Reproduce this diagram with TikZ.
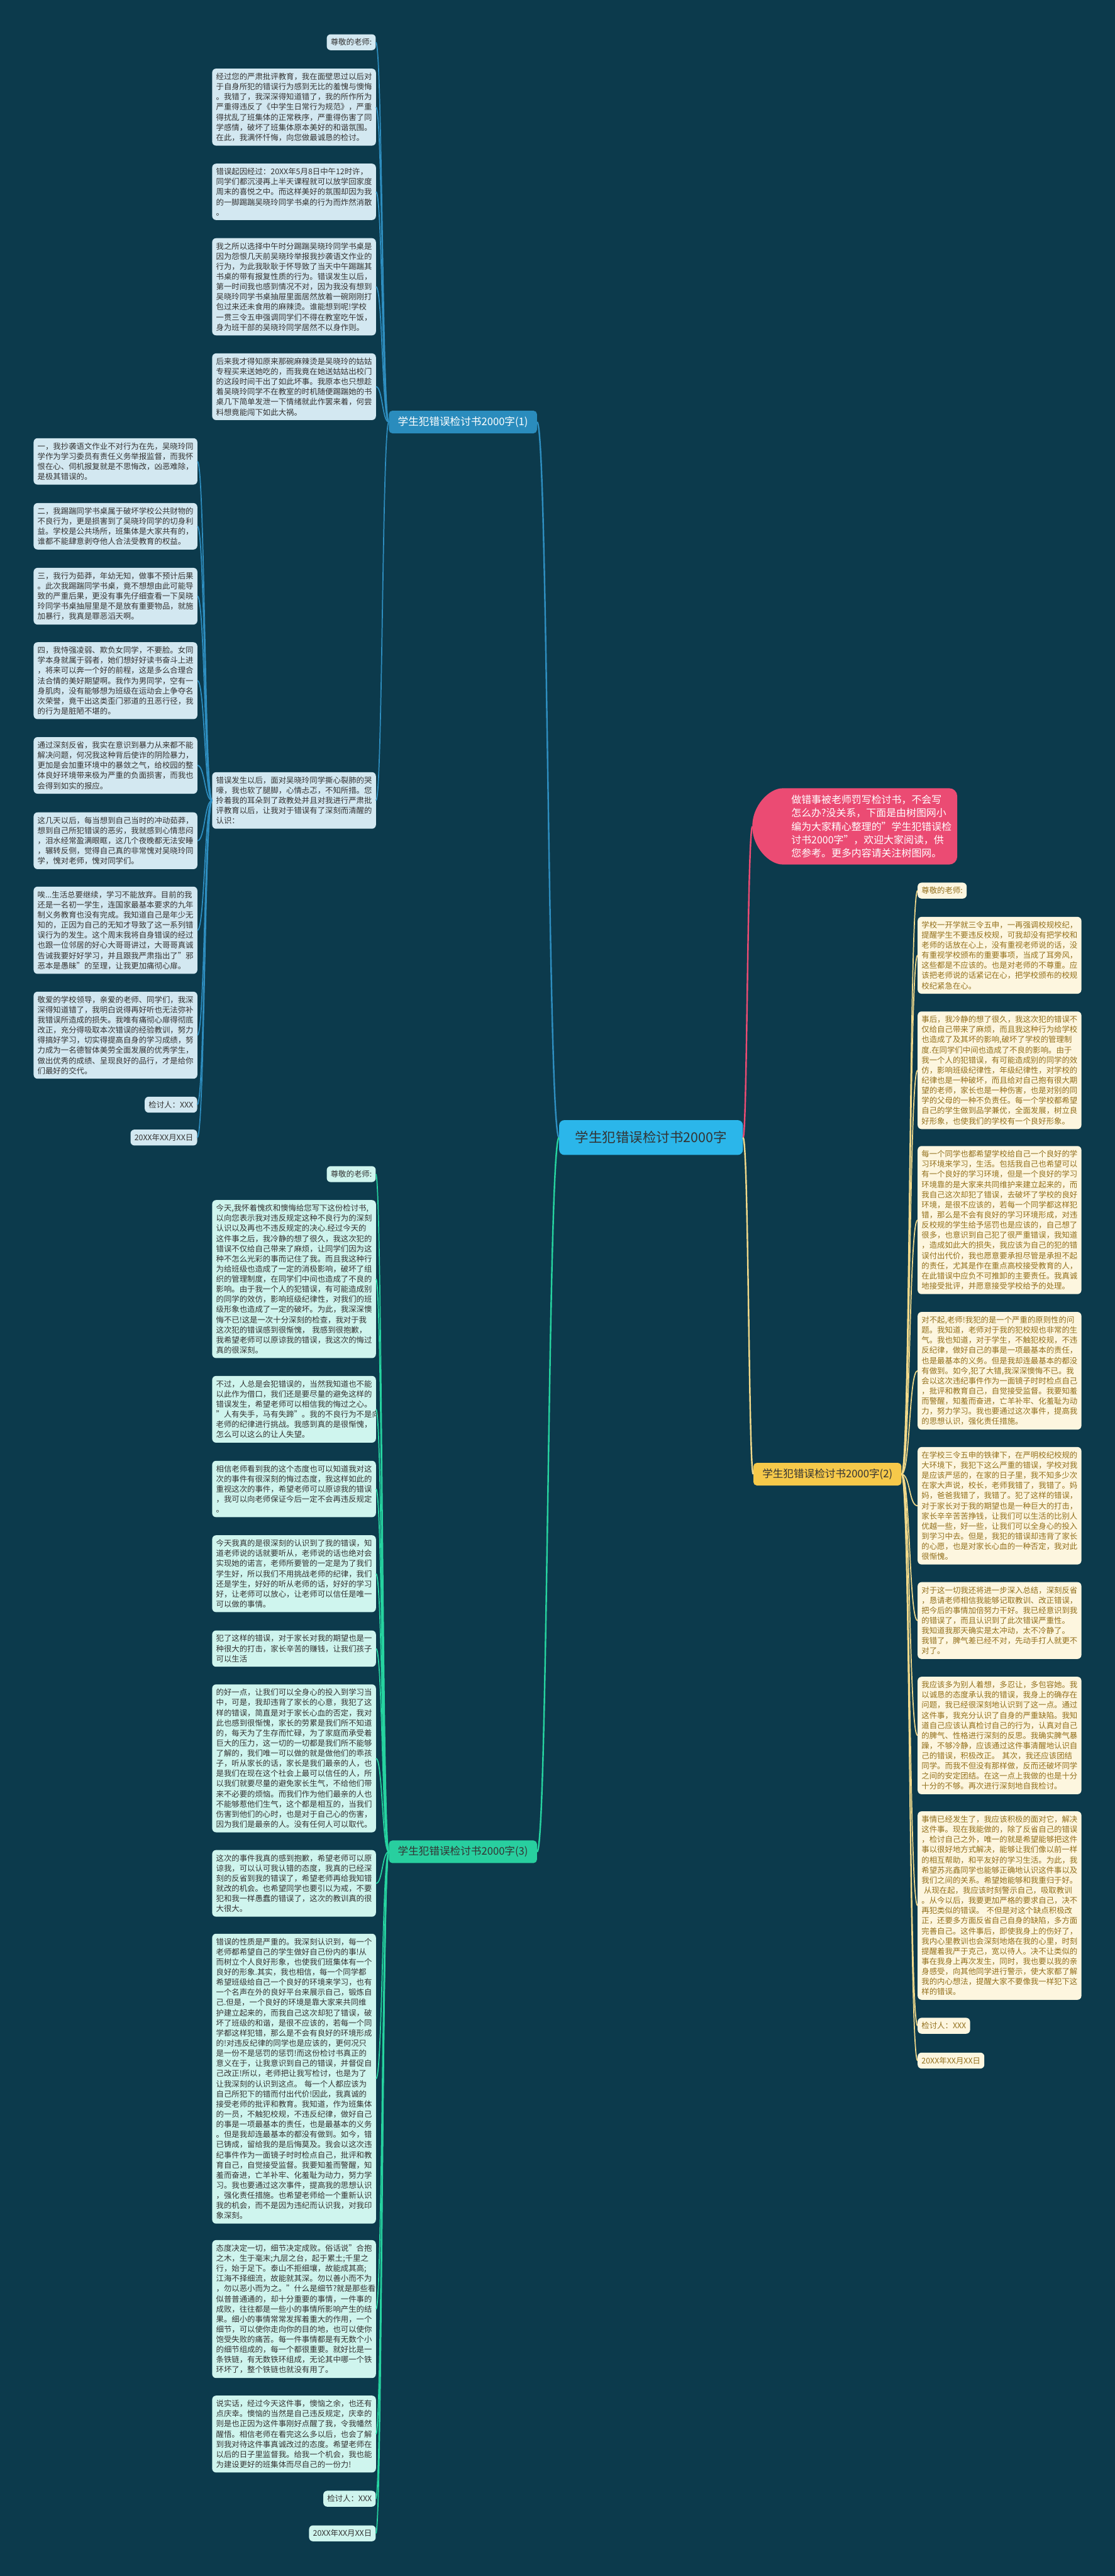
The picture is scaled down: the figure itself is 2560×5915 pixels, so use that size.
\documentclass[tikz,border=0pt]{standalone}
\usepackage{fontspec}
\setmainfont{Noto Sans CJK SC}
\usetikzlibrary{calc}
\definecolor{bgc}{HTML}{0C3A4C}
\definecolor{bline}{HTML}{2E8EC0}
\definecolor{bfill}{HTML}{D3E8F1}
\definecolor{bnode}{HTML}{2A8CBD}
\definecolor{gline}{HTML}{26D3A0}
\definecolor{gfill}{HTML}{CFF5EE}
\definecolor{gnode}{HTML}{28CF9F}
\definecolor{yline}{HTML}{F1D98A}
\definecolor{yfill}{HTML}{FDF6DF}
\definecolor{ytext}{HTML}{93701C}
\definecolor{ynode}{HTML}{F6C94A}
\definecolor{pinkc}{HTML}{EB4B73}
\definecolor{cenc}{HTML}{2BB6EA}
\definecolor{dtext}{HTML}{333333}
\newcommand\myboxfont{\fontsize{17.9pt}{23.3pt}\selectfont}
\newcommand\mybrfont{\fontsize{24pt}{28pt}\selectfont}
\newcommand\mycenfont{\fontsize{31pt}{36pt}\selectfont}
\newcommand\mypkfont{\fontsize{23pt}{30.8pt}\selectfont}
\tikzset{
  bx/.style={rounded corners=9pt, inner xsep=9pt, inner ysep=10pt, font=\myboxfont, align=left},
  wd/.style={text width=358pt},
  bluebox/.style={bx, fill=bfill, text=dtext},
  greenbox/.style={bx, fill=gfill, text=dtext},
  yelbox/.style={bx, fill=yfill, text=ytext},
  brnode/.style={rounded corners=8pt, minimum width=340pt, minimum height=52pt, font=\mybrfont, inner sep=4pt},
  bcon/.style={draw=bline, line width=2.5pt},
  gcon/.style={draw=gline, line width=2.5pt},
  ycon/.style={draw=yline, line width=2.5pt},
}
\begin{document}
\begin{tikzpicture}[x=1pt,y=-1pt]
\useasboundingbox (0,0) rectangle (2560,5915);
\fill[bgc] (0,0) rectangle (2560,5915);

% ---------- center and branch nodes
\node[fill=cenc, text=dtext, rounded corners=12pt, minimum width=422pt, minimum height=80pt, font=\mycenfont] (cen) at (1495,2612) {学生犯错误检讨书2000字};
\node[brnode, fill=bnode, text=white] (b1) at (1063,969) {学生犯错误检讨书2000字(1)};
\node[brnode, fill=ynode, text=dtext] (b2) at (1900,3385) {学生犯错误检讨书2000字(2)};
\node[brnode, fill=gnode, text=dtext] (b3) at (1063,4252) {学生犯错误检讨书2000字(3)};

% pink bubble
\fill[pinkc, rounded corners=18pt] (1815,1985) arc[start angle=90, end angle=270, radius=87.5] -- (2198,1810) -- (2198,1985) -- cycle;
\coordinate (pk) at (1728,1897.5);
\node[anchor=west, text=white, font=\mypkfont, align=left, inner sep=0pt] (pkt) at (1817,1897.5) {做错事被老师罚写检讨书，不会写\\怎么办?没关系，下面是由树图网小\\编为大家精心整理的"学生犯错误检\\讨书2000字"，欢迎大家阅读，供\\您参考。更多内容请关注树图网。};

% ---------- branch 1
\node[bluebox, anchor=east] (B1a) at (863,97) {尊敬的老师:};
\node[bluebox, wd, anchor=west] (B1b) at (487,246) {经过您的严肃批评教育，我在面壁思过以后对\\于自身所犯的错误行为感到无比的羞愧与懊悔\\。我错了，我深深得知道错了，我的所作所为\\严重得违反了《中学生日常行为规范》，严重\\得扰乱了班集体的正常秩序，严重得伤害了同\\学感情，破坏了班集体原本美好的和谐氛围。\\在此，我满怀忏悔，向您做最诚恳的检讨。};
\node[bluebox, wd, anchor=west] (B1c) at (487,440.5) {错误起因经过：20XX年5月8日中午12时许，\\同学们都沉浸再上半天课程就可以放学回家度\\周末的喜悦之中。而这样美好的氛围却因为我\\的一脚踢踹吴晓玲同学书桌的行为而炸然消散\\。};
\node[bluebox, wd, anchor=west] (B1d) at (487,658.5) {我之所以选择中午时分踢踹吴晓玲同学书桌是\\因为怨恨几天前吴晓玲举报我抄袭语文作业的\\行为，为此我耿耿于怀导致了当天中午踢踹其\\书桌的带有报复性质的行为。错误发生以后，\\第一时间我也感到情况不对，因为我没有想到\\吴晓玲同学书桌抽屉里面居然放着一碗刚刚打\\包过来还未食用的麻辣烫。谁能想到呢!学校\\一贯三令五申强调同学们不得在教室吃午饭，\\身为班干部的吴晓玲同学居然不以身作则。};
\node[bluebox, wd, anchor=west] (B1e) at (487,888) {后来我才得知原来那碗麻辣烫是吴晓玲的姑姑\\专程买来送她吃的，而我竟在她送姑姑出校门\\的这段时间干出了如此坏事。我原本也只想趁\\着吴晓玲同学不在教室的时机随便踢踹她的书\\桌几下简单发泄一下情绪就此作罢来着，何尝\\料想竟能闯下如此大祸。};
\node[bluebox, wd, anchor=west] (B1f) at (487,1838) {错误发生以后，面对吴晓玲同学撕心裂肺的哭\\嚎，我也软了腿脚，心情忐忑，不知所措。您\\拎着我的耳朵到了政教处并且对我进行严肃批\\评教育以后，让我对于错误有了深刻而清醒的\\认识：};

% left column
\node[bluebox, wd, anchor=west] (L1) at (77,1059.5) {一，我抄袭语文作业不对行为在先，吴晓玲同\\学作为学习委员有责任义务举报监督，而我怀\\恨在心、伺机报复就是不思悔改，凶恶难除，\\是极其错误的。};
\node[bluebox, wd, anchor=west] (L2) at (77,1208.5) {二，我踢踹同学书桌属于破坏学校公共财物的\\不良行为，更是损害到了吴晓玲同学的切身利\\益。学校是公共场所，班集体是大家共有的，\\谁都不能肆意剥夺他人合法受教育的权益。};
\node[bluebox, wd, anchor=west] (L3) at (77,1369) {三，我行为茹莽，年幼无知，做事不预计后果\\。此次我踢踹同学书桌，竟不想想由此可能导\\致的严重后果，更没有事先仔细查看一下吴晓\\玲同学书桌抽屉里是不是放有重要物品，就施\\加暴行，我真是罪恶滔天啊。};
\node[bluebox, wd, anchor=west] (L4) at (77,1563) {四，我恃强凌弱、欺负女同学，不要脸。女同\\学本身就属于弱者，她们想好好读书奋斗上进\\，将来可以奔一个好的前程，这是多么合理合\\法合情的美好期望啊。我作为男同学，空有一\\身肌肉，没有能够想为班级在运动会上争夺名\\次荣誉，竟干出这类歪门邪道的丑恶行径，我\\的行为是脏陋不堪的。};
\node[bluebox, wd, anchor=west] (L5) at (77,1757.5) {通过深刻反省，我实在意识到暴力从来都不能\\解决问题，何况我这种背后使诈的阴险暴力，\\更加是会加重环境中的暴敛之气，给校园的整\\体良好环境带来极为严重的负面损害，而我也\\会得到如实的报应。};
\node[bluebox, wd, anchor=west] (L6) at (77,1930.5) {这几天以后，每当想到自己当时的冲动茹莽，\\想到自己所犯错误的恶劣，我就感到心情悲闷\\，泪水经常盈满眼眶，这几个夜晚都无法安睡\\，辗转反侧，觉得自己真的非常愧对吴晓玲同\\学，愧对老师，愧对同学们。};
\node[bluebox, wd, anchor=west] (L7) at (77,2136) {唉...生活总要继续，学习不能放弃。目前的我\\还是一名初一学生，连国家最基本要求的九年\\制义务教育也没有完成。我知道自己是年少无\\知的，正因为自己的无知才导致了这一系列错\\误行为的发生。这个周末我将自身错误的经过\\也跟一位邻居的好心大哥哥讲过，大哥哥真诚\\告诫我要好好学习，并且跟我严肃指出了"邪\\恶本是愚昧"的至理，让我更加痛彻心扉。};
\node[bluebox, wd, anchor=west] (L8) at (77,2377) {敬爱的学校领导，亲爱的老师、同学们，我深\\深得知道错了，我明白说得再好听也无法弥补\\我错误所造成的损失。我唯有痛彻心扉得彻底\\改正，充分得吸取本次错误的经验教训，努力\\得搞好学习，切实得提高自身的学习成绩，努\\力成为一名德智体美劳全面发展的优秀学生，\\做出优秀的成绩、呈现良好的品行，才是给你\\们最好的交代。};
\node[bluebox, anchor=east] (L9) at (453,2536.5) {检讨人：XXX};
\node[bluebox, anchor=east] (L10) at (453,2612) {20XX年XX月XX日};

% ---------- branch 2
\node[yelbox, anchor=west] (Y1) at (2107,2045) {尊敬的老师:};
\node[yelbox, wd, anchor=west] (Y2) at (2107,2193.5) {学校一开学就三令五申，一再强调校规校纪，\\提醒学生不要违反校规，可我却没有把学校和\\老师的话放在心上，没有重视老师说的话，没\\有重视学校颁布的重要事项，当成了耳旁风，\\这些都是不应该的。也是对老师的不尊重。应\\该把老师说的话紧记在心，把学校颁布的校规\\校纪紧急在心。};
\node[yelbox, wd, anchor=west] (Y3) at (2107,2457.5) {事后，我冷静的想了很久，我这次犯的错误不\\仅给自己带来了麻烦，而且我这种行为给学校\\也造成了及其坏的影响,破坏了学校的管理制\\度.在同学们中间也造成了不良的影响。由于\\我一个人的犯错误，有可能造成别的同学的效\\仿，影响班级纪律性，年级纪律性，对学校的\\纪律也是一种破坏，而且给对自己抱有很大期\\望的老师，家长也是一种伤害，也是对别的同\\学的父母的一种不负责任。每一个学校都希望\\自己的学生做到品学兼优，全面发展，树立良\\好形象，也使我们的学校有一个良好形象。};
\node[yelbox, wd, anchor=west] (Y4) at (2107,2801.5) {每一个同学也都希望学校给自己一个良好的学\\习环境来学习，生活。包括我自己也希望可以\\有一个良好的学习环境，但是一个良好的学习\\环境靠的是大家来共同维护来建立起来的，而\\我自己这次却犯了错误，去破坏了学校的良好\\环境，是很不应该的，若每一个同学都这样犯\\错，那么是不会有良好的学习环境形成，对违\\反校规的学生给予惩罚也是应该的，自己想了\\很多，也意识到自己犯了很严重错误，我知道\\，造成如此大的损失，我应该为自己的犯的错\\误付出代价，我也愿意要承担尽管是承担不起\\的责任，尤其是作在重点高校接受教育的人，\\在此错误中应负不可推卸的主要责任。我真诚\\地接受批评，并愿意接受学校给予的处理。};
\node[yelbox, wd, anchor=west] (Y5) at (2107,3147.5) {对不起,老师!我犯的是一个严重的原则性的问\\题。我知道，老师对于我的犯校规也非常的生\\气。我也知道，对于学生，不触犯校规，不违\\反纪律，做好自己的事是一项最基本的责任，\\也是最基本的义务。但是我却连最基本的都没\\有做到。如今,犯了大错,我深深懊悔不已。我\\会以这次违纪事件作为一面镜子时时检点自己\\，批评和教育自己，自觉接受监督。我要知羞\\而警醒，知羞而奋进，亡羊补牢、化羞耻为动\\力，努力学习。我也要通过这次事件，提高我\\的思想认识，强化责任措施。};
\node[yelbox, wd, anchor=west] (Y6) at (2107,3457.5) {在学校三令五申的铁律下，在严明校纪校规的\\大环境下，我犯下这么严重的错误，学校对我\\是应该严惩的，在家的日子里，我不知多少次\\在家大声说，校长，老师我错了，我错了。妈\\妈，爸爸我错了，我错了。犯了这样的错误，\\对于家长对于我的期望也是一种巨大的打击，\\家长辛辛苦苦挣钱，让我们可以生活的比别人\\优越一些，好一些，让我们可以全身心的投入\\到学习中去。但是，我犯的错误却违背了家长\\的心愿，也是对家长心血的一种否定，我对此\\很惭愧。};
\node[yelbox, wd, anchor=west] (Y7) at (2107,3721) {对于这一切我还将进一步深入总结，深刻反省\\，恳请老师相信我能够记取教训、改正错误，\\把今后的事情加倍努力干好。我已经意识到我\\的错误了，而且认识到了此次错误严重性。\\我知道我那天确实是太冲动，太不冷静了。\\我错了，脾气差已经不对，先动手打人就更不\\对了。};
\node[yelbox, wd, anchor=west] (Y8) at (2107,3985) {我应该多为别人着想，多忍让，多包容她。我\\以诚恳的态度承认我的错误，我身上的确存在\\问题，我已经很深刻地认识到了这一点。通过\\这件事，我充分认识了自身的严重缺陷。我知\\道自己应该认真检讨自己的行为，认真对自己\\的脾气、性格进行深刻的反思。我确实脾气暴\\躁，不够冷静，应该通过这件事清醒地认识自\\己的错误，积极改正。~其次，我还应该团结\\同学。而我不但没有那样做，反而还破坏同学\\之间的安定团结。在这一点上我做的也是十分\\十分的不够。再次进行深刻地自我检讨。};
\node[yelbox, wd, anchor=west] (Y9) at (2107,4375.5) {事情已经发生了，我应该积极的面对它，解决\\这件事。现在我能做的，除了反省自己的错误\\，检讨自己之外，唯一的就是希望能够把这件\\事以很好地方式解决，能够让我们像以前一样\\的相互帮助，和平友好的学习生活。为此，我\\希望苏兆鑫同学也能够正确地认识这件事以及\\我们之间的关系。希望她能够和我重归于好。\\\hspace*{0.3em}从现在起，我应该时刻警示自己，吸取教训\\。从今以后，我要更加严格的要求自己，决不\\再犯类似的错误。~不但是对这个缺点积极改\\正，还要多方面反省自己自身的缺陷，多方面\\完善自己。这件事后，即使我身上的伤好了，\\我内心里教训也会深刻地烙在我的心里，时刻\\提醒着我严于克己，宽以待人。决不让类似的\\事在我身上再次发生，同时，我也要以我的亲\\身感受，向其他同学进行警示，使大家都了解\\我的内心想法，提醒大家不要像我一样犯下这\\样的错误。};
\node[yelbox, anchor=west] (Y10) at (2107,4651.5) {检讨人：XXX};
\node[yelbox, anchor=west] (Y11) at (2107,4731.5) {20XX年XX月XX日};

% ---------- branch 3
\node[greenbox, anchor=east] (G1) at (863,2696) {尊敬的老师:};
\node[greenbox, wd, anchor=west] (G2) at (487,2937) {今天,我怀着愧疚和懊悔给您写下这份检讨书,\\以向您表示我对违反规定这种不良行为的深刻\\认识以及再也不违反规定的决心.经过今天的\\这件事之后，我冷静的想了很久，我这次犯的\\错误不仅给自己带来了麻烦，让同学们因为这\\种不怎么光彩的事而记住了我。而且我这种行\\为给班级也造成了一定的消极影响，破坏了组\\织的管理制度，在同学们中间也造成了不良的\\影响。由于我一个人的犯错误，有可能造成别\\的同学的效仿，影响班级纪律性，对我们的班\\级形象也造成了一定的破坏。为此，我深深懊\\悔不已!这是一次十分深刻的检查，我对于我\\这次犯的错误感到很惭愧，~我感到很抱歉，\\我希望老师可以原谅我的错误，我这次的悔过\\真的很深刻。};
\node[greenbox, wd, anchor=west] (G3) at (487,3236) {不过，人总是会犯错误的，当然我知道也不能\\以此作为借口，我们还是要尽量的避免这样的\\错误发生，希望老师可以相信我的悔过之心。\\"人有失手，马有失蹄"。我的不良行为不是向\\老师的纪律进行挑战。我感到真的是很惭愧，\\怎么可以这么的让人失望。};
\node[greenbox, wd, anchor=west] (G4) at (487,3419) {相信老师看到我的这个态度也可以知道我对这\\次的事件有很深刻的悔过态度，我这样如此的\\重视这次的事件，希望老师可以原谅我的错误\\，我可以向老师保证今后一定不会再违反规定\\。};
\node[greenbox, wd, anchor=west] (G5) at (487,3613.5) {今天我真的是很深刻的认识到了我的错误，知\\道老师说的话就要听从，老师说的话也绝对会\\实现她的诺言，老师所要管的一定是为了我们\\学生好，所以我们不用挑战老师的纪律，我们\\还是学生，好好的听从老师的话，好好的学习\\好，让老师可以放心，让老师可以信任是唯一\\可以做的事情。};
\node[greenbox, wd, anchor=west] (G6) at (487,3785.5) {犯了这样的错误，对于家长对我的期望也是一\\种很大的打击，家长辛苦的赚钱，让我们孩子\\可以生活};
\node[greenbox, wd, anchor=west] (G7) at (487,4037.5) {的好一点，让我们可以全身心的投入到学习当\\中，可是，我却违背了家长的心意，我犯了这\\样的错误，简直是对于家长心血的否定，我对\\此也感到很惭愧，家长的劳累是我们所不知道\\的，每天为了生存而忙碌，为了家庭而承受着\\巨大的压力，这一切的一切都是我们所不能够\\了解的，我们唯一可以做的就是做他们的乖孩\\子，听从家长的话，家长是我们最亲的人，也\\是我们在现在这个社会上最可以信任的人，所\\以我们就要尽量的避免家长生气，不给他们带\\来不必要的烦恼。而我们作为他们最亲的人也\\不能够惹他们生气，这个都是相互的，当我们\\伤害到他们的心时，也是对于自己心的伤害，\\因为我们是最亲的人。没有任何人可以取代。};
\node[greenbox, wd, anchor=west] (G8) at (487,4324.5) {这次的事件我真的感到抱歉，希望老师可以原\\谅我，可以认可我认错的态度，我真的已经深\\刻的反省到我的错误了，希望老师再给我知错\\就改的机会。也希望同学也要引以为戒，不要\\犯和我一样愚蠢的错误了，这次的教训真的很\\大很大。};
\node[greenbox, wd, anchor=west] (G9) at (487,4773) {错误的性质是严重的。我深刻认识到，每一个\\老师都希望自己的学生做好自己份内的事!从\\而树立个人良好形象，也使我们班集体有一个\\良好的形象.其实，我也相信，每一个同学都\\希望班级给自己一个良好的环境来学习，也有\\一个名声在外的良好平台来展示自己，锻炼自\\己.但是，一个良好的环境是靠大家来共同维\\护建立起来的，而我自己这次却犯了错误，破\\坏了班级的和谐，是很不应该的，若每一个同\\学都这样犯错，那么是不会有良好的环境形成\\的!对违反纪律的同学也是应该的，更何况只\\是一份不是惩罚的惩罚!而这份检讨书真正的\\意义在于，让我意识到自己的错误，并督促自\\己改正!所以，老师把让我写检讨，也是为了\\让我深刻的认识到这点。~每一个人都应该为\\自己所犯下的错而付出代价!因此，我真诚的\\接受老师的批评和教育。我知道，作为班集体\\的一员，不触犯校规，不违反纪律，做好自己\\的事是一项最基本的责任，也是最基本的义务\\。但是我却连最基本的都没有做到。如今，错\\已铸成，留给我的是后悔莫及。我会以这次违\\纪事件作为一面镜子时时检点自己，批评和教\\育自己，自觉接受监督。我要知羞而警醒，知\\羞而奋进，亡羊补牢、化羞耻为动力，努力学\\习。我也要通过这次事件，提高我的思想认识\\，强化责任措施。也希望老师给一个重新认识\\我的机会，而不是因为违纪而认识我，对我印\\象深刻。};
\node[greenbox, wd, anchor=west] (G10) at (487,5302) {态度决定一切，细节决定成败。俗话说"合抱\\之木，生于毫末;九层之台，起于累土;千里之\\行，始于足下。泰山不拒细壤，故能成其高;\\江海不择细流，故能就其深。勿以善小而不为\\，勿以恶小而为之。"什么是细节?就是那些看\\似普普通通的，却十分重要的事情，一件事的\\成败，往往都是一些小的事情所影响产生的结\\果。细小的事情常常发挥着重大的作用，一个\\细节，可以使你走向你的目的地，也可以使你\\饱受失败的痛苦。每一件事情都是有无数个小\\的细节组成的，每一个都很重要。就好比是一\\条铁链，有无数铁环组成，无论其中哪一个铁\\环坏了，整个铁链也就没有用了。};
\node[greenbox, wd, anchor=west] (G11) at (487,5589) {说实话，经过今天这件事，懊恼之余，也还有\\点庆幸。懊恼的当然是自己违反规定，庆幸的\\则是也正因为这件事刚好点醒了我，令我幡然\\醒悟。相信老师在看完这么多以后，也会了解\\到我对待这件事真诚改过的态度。希望老师在\\以后的日子里监督我。给我一个机会，我也能\\为建设更好的班集体而尽自己的一份力!};
\node[greenbox, anchor=east] (G12) at (863,5737.5) {检讨人：XXX};
\node[greenbox, anchor=east] (G13) at (863,5817) {20XX年XX月XX日};

% ---------- connectors
\draw[draw=bline, line width=3.5pt] (cen.west) .. controls (1258,2612) and (1258,969) .. (b1.east);
\draw[draw=gline, line width=3.5pt] (cen.west) .. controls (1258,2612) and (1258,4252) .. (b3.east);
\draw[draw=pinkc, line width=3.5pt] (cen.east) .. controls (1716,2612) and (1716,1897.5) .. (pk);
\draw[draw=yline, line width=3.5pt] (cen.east) .. controls (1719,2612) and (1719,3385) .. (b2.west);

\foreach \n in {B1a,B1b,B1c,B1d,B1e,B1f}
  \draw[bcon] (b1.west) .. controls ($(b1.west)+(-15,0)$) and ($(\n.east)+(15,0)$) .. (\n.east);
\foreach \n in {L1,L2,L3,L4,L5,L6,L7,L8,L9,L10}
  \draw[bcon] (B1f.west) .. controls ($(B1f.west)+(-17,0)$) and ($(\n.east)+(17,0)$) .. (\n.east);
\foreach \n in {Y1,Y2,Y3,Y4,Y5,Y6,Y7,Y8,Y9,Y10,Y11}
  \draw[ycon] (b2.east) .. controls ($(b2.east)+(20,0)$) and ($(\n.west)+(-20,0)$) .. (\n.west);
\foreach \n in {G1,G2,G3,G4,G5,G6,G7,G8,G9,G10,G11,G12,G13}
  \draw[gcon] (b3.west) .. controls ($(b3.west)+(-15,0)$) and ($(\n.east)+(15,0)$) .. (\n.east);
\end{tikzpicture}
\end{document}
